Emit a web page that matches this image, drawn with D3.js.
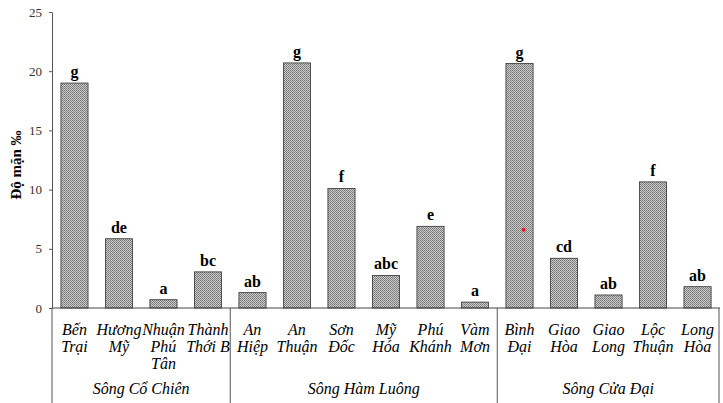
<!DOCTYPE html>
<html>
<head>
<meta charset="utf-8">
<script src="https://cdn.jsdelivr.net/npm/d3@7"></script>
<style>
  body { margin: 0; background: #fff; }
  svg { display: block; }
</style>
</head>
<body>
<div id="chart"></div>
<script>
// stations, grouped by river
let stations = ["Bến Trại", "Hương Mỹ", "Nhuận Phú Tân", "Thành Thới B",
    "An Hiệp", "An Thuận", "Sơn Đốc", "Mỹ Hóa", "Phú Khánh", "Vàm Mơn",
    "Bình Đại", "Giao Hòa", "Giao Long", "Lộc Thuận", "Long Hòa"]
let stationLines = [["Bến", "Trại"], ["Hương", "Mỹ"], ["Nhuận", "Phú", "Tân"], ["Thành", "Thới B"],
    ["An", "Hiệp"], ["An", "Thuận"], ["Sơn", "Đốc"], ["Mỹ", "Hóa"], ["Phú", "Khánh"], ["Vàm", "Mơn"],
    ["Bình", "Đại"], ["Giao", "Hòa"], ["Giao", "Long"], ["Lộc", "Thuận"], ["Long", "Hòa"]]
let salinity = [19.0, 5.85, 0.7, 3.05, 1.3, 20.7, 10.1, 2.75, 6.9, 0.5, 20.65, 4.2, 1.1, 10.65, 1.8]
let letters = ["g", "de", "a", "bc", "ab", "g", "f", "abc", "e", "a", "g", "cd", "ab", "f", "ab"]
let rivers = ["Sông Cổ Chiên", "Sông Hàm Luông", "Sông Cửa Đại"]
let riverFirst = [0, 4, 10]
let yTicks = [0, 5, 10, 15, 20, 25]

const W = 723, H = 403
const mLeft = 52, mRight = 720, mTop = 12, mBottom = 308
const SERIF = "'Liberation Serif', serif"

const svg = d3.select("#chart").append("svg")
    .attr("width", W)
    .attr("height", H)

// fine dotted/checker fill like the scanned bars
const defs = svg.append("defs")
const pat = defs.append("pattern")
    .attr("id", "hatch")
    .attr("patternUnits", "userSpaceOnUse")
    .attr("width", 2).attr("height", 2)
pat.append("rect").attr("width", 2).attr("height", 2).attr("fill", "#cbcbcb")
pat.append("rect").attr("width", 1).attr("height", 1).attr("fill", "#757575")
pat.append("rect").attr("x", 1).attr("y", 1).attr("width", 1).attr("height", 1).attr("fill", "#858585")

const x = d3.scaleBand()
    .domain(stations)
    .range([mLeft, mRight])
    .paddingInner(0.39)
    .paddingOuter(0.2)

const y = d3.scaleLinear()
    .domain([0, 25])
    .range([mBottom, mTop])

// y axis
const yAxis = svg.append("g")
    .attr("transform", `translate(${mLeft},0)`)
    .call(d3.axisLeft(y).tickValues(yTicks).tickSize(3).tickSizeOuter(0))
yAxis.attr("font-family", null)
yAxis.select(".domain").attr("stroke", "#555")
yAxis.selectAll(".tick line").attr("stroke", "#555")
yAxis.selectAll("text")
    .style("font-family", SERIF)
    .attr("font-size", 13)
    .attr("fill", "#333")
    .attr("x", -10)

svg.append("text")
    .attr("transform", `translate(21,165) rotate(-90)`)
    .attr("text-anchor", "middle")
    .style("font-family", SERIF)
    .attr("font-weight", "bold")
    .attr("font-size", 15)
    .text("Độ mặn ‰")

// bars
svg.append("g").selectAll("rect")
    .data(stations)
    .join("rect")
    .attr("x", d => x(d))
    .attr("y", (d, i) => y(salinity[i]))
    .attr("width", x.bandwidth())
    .attr("height", (d, i) => y(0) - y(salinity[i]))
    .attr("fill", "url(#hatch)")
    .attr("stroke", "#333")
    .attr("stroke-width", 0.8)

// significance letters
svg.append("g").selectAll("text")
    .data(stations)
    .join("text")
    .attr("x", d => x(d) + x.bandwidth() / 2)
    .attr("y", (d, i) => y(salinity[i]) - 6)
    .attr("text-anchor", "middle")
    .style("font-family", SERIF)
    .attr("font-weight", "bold")
    .attr("font-size", 16)
    .text((d, i) => letters[i])

// baseline and group separators
svg.append("line")
    .attr("x1", mLeft).attr("x2", mRight)
    .attr("y1", mBottom).attr("y2", mBottom)
    .attr("stroke", "#444")

let sepX = [mLeft].concat(riverFirst.slice(1).map(i => x(stations[i]) - x.step() * x.paddingInner() / 2), [mRight - 1])
svg.append("g").selectAll("line")
    .data(sepX)
    .join("line")
    .attr("x1", d => d).attr("x2", d => d)
    .attr("y1", mBottom).attr("y2", H)
    .attr("stroke", "#555")

// station names
const names = svg.append("g")
    .attr("text-anchor", "middle")
stations.forEach(function (s, i) {
    stationLines[i].forEach(function (w, k) {
        names.append("text")
            .attr("x", x(s) + x.bandwidth() / 2)
            .attr("y", 335 + k * 17)
            .style("font-family", SERIF)
            .attr("font-style", "italic")
            .attr("font-size", 16)
            .text(w)
    })
})

// river names
svg.append("g").selectAll("text")
    .data(rivers)
    .join("text")
    .attr("x", (d, i) => (sepX[i] + sepX[i + 1]) / 2)
    .attr("y", 394)
    .attr("text-anchor", "middle")
    .style("font-family", SERIF)
    .attr("font-style", "italic")
    .attr("font-size", 16)
    .text(d => d)

// stray red mark visible on the Bình Đại bar
svg.append("circle")
    .attr("cx", x("Bình Đại") + x.bandwidth() * 0.65)
    .attr("cy", y(6.6))
    .attr("r", 2)
    .attr("fill", "#e02020")
</script>
</body>
</html>
